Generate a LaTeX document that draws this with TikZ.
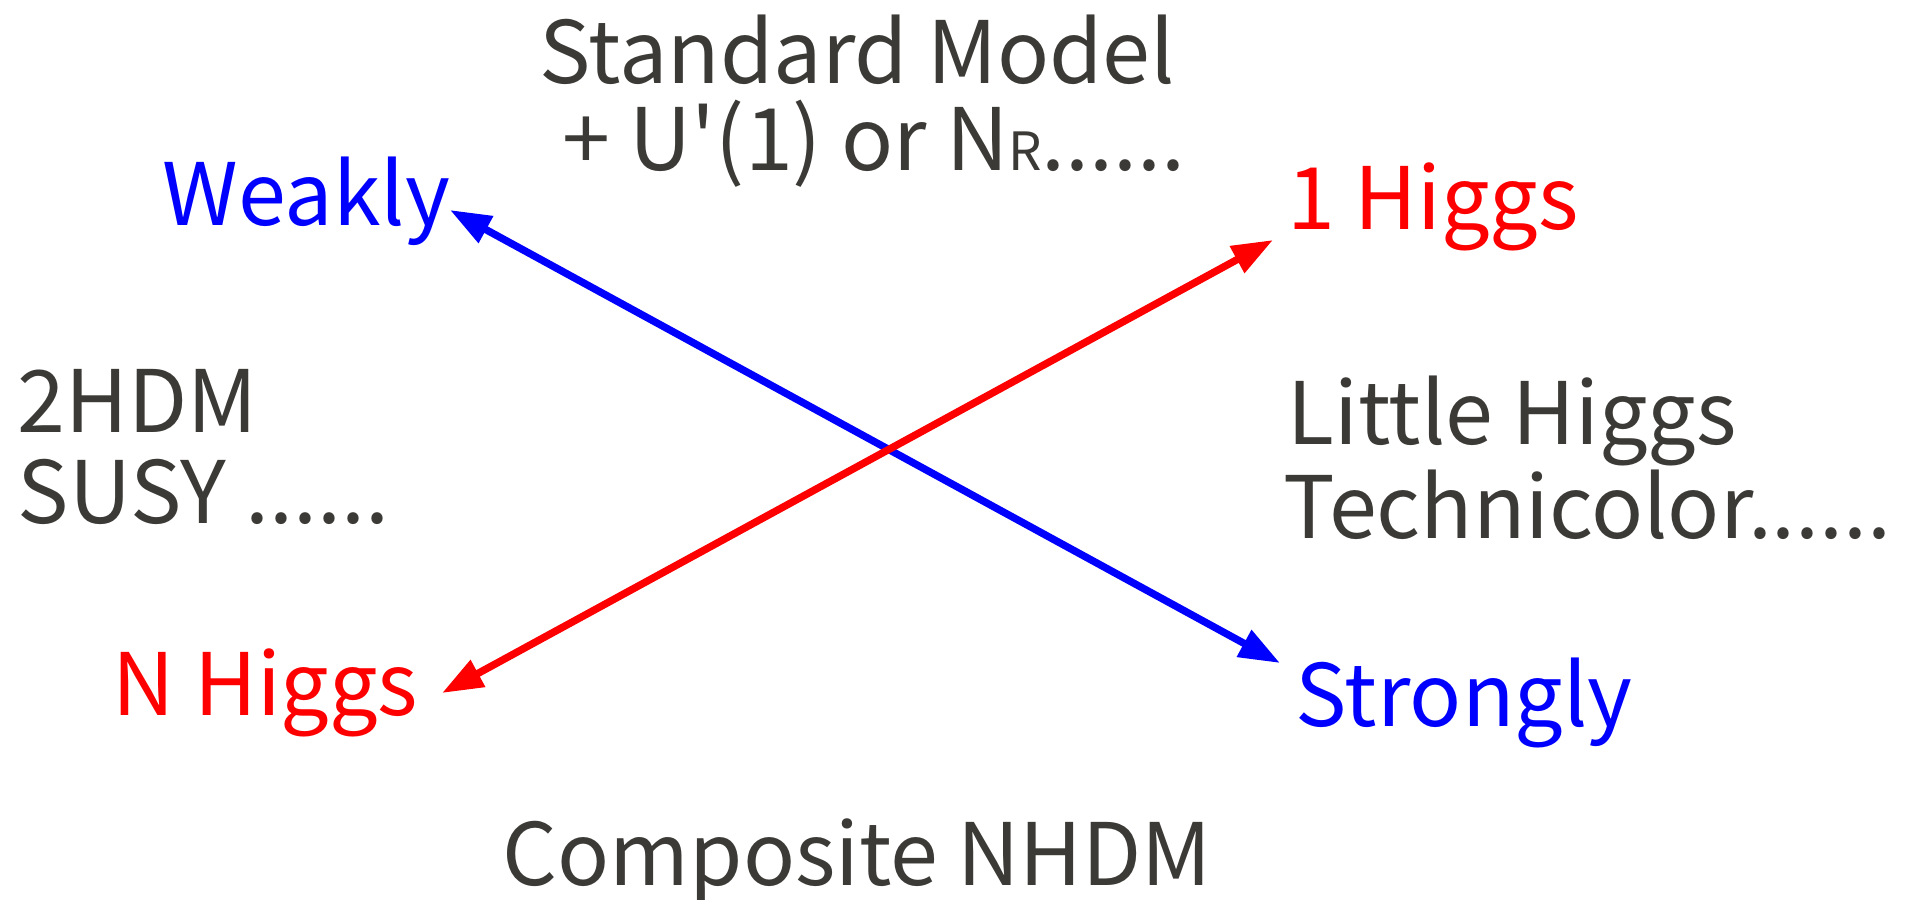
\documentclass[tikz,border=0pt]{standalone}
\usepackage{fontspec}
\setmainfont{Noto Sans CJK JP}[Ligatures=TeXOff]
\usepackage{tikz}
\usetikzlibrary{arrows.meta}

\definecolor{labelgray}{RGB}{59,58,54}

\begin{document}
\begin{tikzpicture}[
    x=0.01cm, y=-0.01cm,
    font=\fontsize{24.5}{29}\selectfont,
    % Define styles for consistent labels
    model/.style={inner sep=0pt, anchor=base west, text=labelgray},
    coupling/.style={inner sep=0pt, anchor=base west, text=blue},
    count/.style={inner sep=0pt, anchor=base west, text=red},
    biarrow/.style={{Triangle[length=0.41cm, width=0.29cm]}-{Triangle[length=0.41cm, width=0.29cm]}, line width=2.1pt}
]
\useasboundingbox (0,0) rectangle (1907,899);

% --- Nodes ---

% Top
\node[model] (sm1) at (539,83) {Standard Model};
\node[model] (sm2) at (562,170) {+ U'(1) or N{\fontsize{15}{18}\selectfont R}......};

% Corners
\node[coupling] (weakly) at (162,225) {Weakly};
\node[count] (onehiggs) at (1287,229) {1 Higgs};
\node[count] (nhiggs) at (112,715) {N Higgs};
\node[coupling] (strongly) at (1295,726) {Strongly};

% Sides
\node[model] (thdm) at (17,432) {2HDM};
\node[model] (susy) at (17,523) {SUSY ......};
\node[model] (little) at (1287,444) {Little Higgs};
\node[model] (techni) at (1283,538) {Technicolor......};

% Bottom
\node[model] (composite) at (502,885) {Composite NHDM};

% --- Arrows ---
\coordinate (wtip) at (450,210);
\coordinate (stip) at (1280,663);
\coordinate (otip) at (1273,240);
\coordinate (ntip) at (442,693);

\draw[biarrow, blue] (wtip) -- (stip);
\draw[biarrow, red] (ntip) -- (otip);

\end{tikzpicture}
\end{document}
